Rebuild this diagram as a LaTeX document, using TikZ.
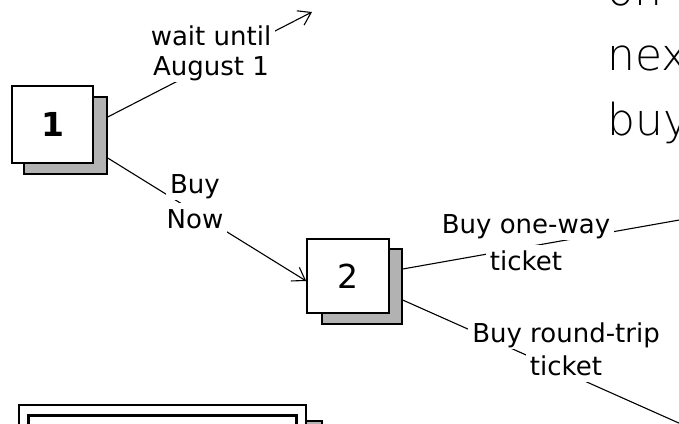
\documentclass[tikz,border=0pt]{standalone}
\usepackage{fontspec}
\setmainfont{DejaVu Sans}
\newfontfamily\thinfont{DejaVu Sans ExtraLight}
\usetikzlibrary{arrows.meta}
\newcommand\wbox[1]{{\setlength\fboxsep{0pt}\colorbox{white}{\rule[-0.28em]{0pt}{1.23em}\hspace{4pt}#1\hspace{4pt}}}}
\newcommand\tightlines{\lineskiplimit=-100pt\relax}
\tikzset{
  front/.style={draw, line width=1.6pt, fill=white, inner sep=0pt, font=\fontsize{33}{33}\selectfont},
  shadowbox/.style={draw, line width=1.4pt, fill=gray!60, inner sep=0pt},
  conn/.style={line width=1.1pt},
  lbl/.style={inner sep=0pt, align=center},
  tip/.style={-{Straight Barb[length=12pt,width=16pt,line width=1.1pt]}}
}
\begin{document}
\begin{tikzpicture}[x=1pt,y=-1pt]
\fill[white] (0,0) rectangle (679,423);
\useasboundingbox (0,0) rectangle (679,423);
% box 1
\node[shadowbox, minimum width=83pt, minimum height=77pt] (s1) at (65.5,135.5) {};
\node[front, minimum width=81pt, minimum height=77pt, font=\fontsize{33}{33}\selectfont\bfseries] (b1) at (52.5,124.5) {1};
% box 2
\node[shadowbox, minimum width=80pt, minimum height=75pt] (s2) at (362,286.5) {};
\node[front, minimum width=82pt, minimum height=74pt] (b2) at (348,276) {2};
% bottom box (cut by the edge)
\draw[shadowbox] (32,421) rectangle (322,470);
\draw[line width=1.2pt, fill=white] (19,405) rectangle (306,470);
\draw[line width=3pt] (28,415) rectangle (296,470);
% free ends
\coordinate (wend) at (312,12);
\coordinate (owend) at (685,219);
\coordinate (rtend) at (690,428);
% connectors
\draw[conn, tip] ([yshift=18.5pt]s1.east) -- (wend);
\draw[conn, tip] ([yshift=-22.5pt]s1.east) -- ([yshift=-5pt]b2.west);
\draw[conn] ([yshift=17.5pt]s2.east) -- (owend);
\draw[conn] ([yshift=-13.5pt]s2.east) -- (rtend);
% labels
\node[lbl, font=\fontsize{26}{30}\selectfont\tightlines] (lw) at (211,51.3) {\wbox{wait until}\\\wbox{August 1}};
\node[lbl, font=\fontsize{26}{35}\selectfont\tightlines] (lb) at (195,201.8) {\wbox{Buy}\\\wbox{Now}};
\node[lbl, font=\fontsize{26}{37}\selectfont\tightlines] (lo) at (526,242.8) {\wbox{Buy one-way}\\\wbox{ticket}};
\node[lbl, font=\fontsize{26}{33}\selectfont\tightlines] (lr) at (566,349.8) {\wbox{Buy round-trip}\\\wbox{ticket}};
% big text, cut by the edge (base anchor = last line's baseline)
\node[anchor=base west, align=left, inner sep=0pt, font=\thinfont\fontsize{44}{65}\selectfont] (big) at (607,135) {on\\nex\\buy};
\end{tikzpicture}
\end{document}
